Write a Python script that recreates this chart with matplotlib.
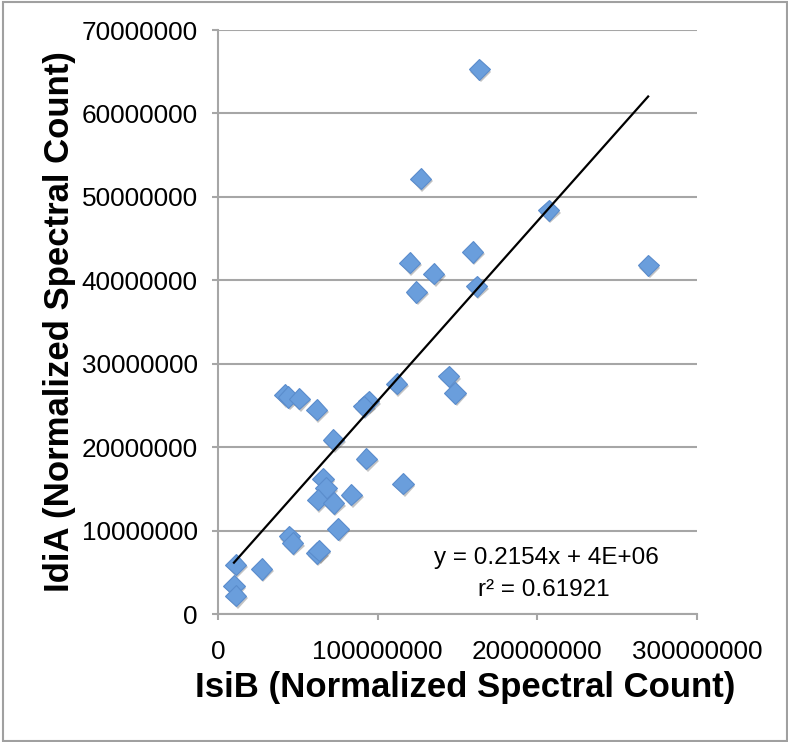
import matplotlib.pyplot as plt
import matplotlib.patheffects as pe
from matplotlib.patches import Rectangle
from matplotlib.ticker import FuncFormatter, MultipleLocator
import numpy as np

plt.rcParams['font.family'] = ['Liberation Sans', 'DejaVu Sans']

# normalized spectral counts per sample
isib = np.array([163.6, 127.0, 207.0, 159.6, 120.0, 269.4, 135.2, 162.0, 124.2,
                 144.6, 112.0, 148.5, 41.8, 44.0, 50.8, 94.3, 91.2, 61.7,
                 72.3, 92.9, 65.8, 115.8, 67.6, 83.5, 62.5, 72.5, 75.2,
                 44.6, 46.7, 61.7, 63.2, 11.0, 27.3, 10.0, 11.2]) * 1e6
idia = np.array([65.3, 52.2, 48.4, 43.4, 42.1, 41.8, 40.8, 39.3, 38.6,
                 28.5, 27.6, 26.5, 26.3, 26.0, 25.8, 25.5, 24.9, 24.5,
                 20.9, 18.6, 16.2, 15.6, 15.1, 14.3, 13.7, 13.3, 10.2,
                 9.3, 8.5, 7.3, 7.6, 5.9, 5.4, 3.4, 2.2]) * 1e6

# linear trend as reported by the spreadsheet
slope = 0.2154
intercept = 4e6
r2 = 0.61921

fig = plt.figure(figsize=(7.88, 7.42), dpi=100)
ax = fig.add_axes([218 / 788, 128 / 742, (697 - 218) / 788, (614 - 30) / 742])

grey = '#a6a6a6'
ax.set_xlim(0, 300e6)
ax.set_ylim(0, 70e6)
ax.xaxis.set_major_locator(MultipleLocator(100e6))
ax.yaxis.set_major_locator(MultipleLocator(10e6))
fmt = FuncFormatter(lambda v, p: f'{int(round(v))}')
ax.xaxis.set_major_formatter(fmt)
ax.yaxis.set_major_formatter(fmt)
ax.grid(axis='y', color=grey, lw=1.5)
ax.set_axisbelow(True)
for s in ('top', 'right'):
    ax.spines[s].set_visible(False)
for s in ('left', 'bottom'):
    ax.spines[s].set_color(grey)
    ax.spines[s].set_linewidth(1.5)
ax.tick_params(direction='out', length=4.5, width=1.5, color=grey, labelsize=18.8)
ax.tick_params(axis='x', pad=14)
ax.tick_params(axis='y', pad=10)

ax.plot(isib, idia, 'D', ms=10.8, mfc='#6a9edc', mec='#5a8ccc', mew=0.8,
        clip_on=False, zorder=3,
        path_effects=[pe.SimplePatchShadow(offset=(1.2, -1.8), shadow_rgbFace='#555555', alpha=0.35),
                      pe.Normal()])

xs = np.array([isib.min(), isib.max()])
ax.plot(xs, slope * xs + intercept, color='black', lw=1.6, zorder=4)

ax.text(0.685, 0.096, f'y = {slope}x + 4E+06', transform=ax.transAxes,
        ha='center', va='center', fontsize=17.5)
ax.text(0.68, 0.041, f'r² = {r2}', transform=ax.transAxes,
        ha='center', va='center', fontsize=17.5)

ax.set_xlabel('IsiB (Normalized Spectral Count)', fontsize=25, fontweight='bold')
ax.xaxis.set_label_coords(0.517, -0.098)
ax.set_ylabel('IdiA (Normalized Spectral Count)', fontsize=25, fontweight='bold',
              labelpad=4)

fig.patches.append(Rectangle((3 / 788, 1.5 / 742), 783.5 / 788, 738.5 / 742,
                             transform=fig.transFigure, fill=False,
                             edgecolor='#a0a0a0', lw=1.5))

fig.savefig('out.png', dpi=100)
